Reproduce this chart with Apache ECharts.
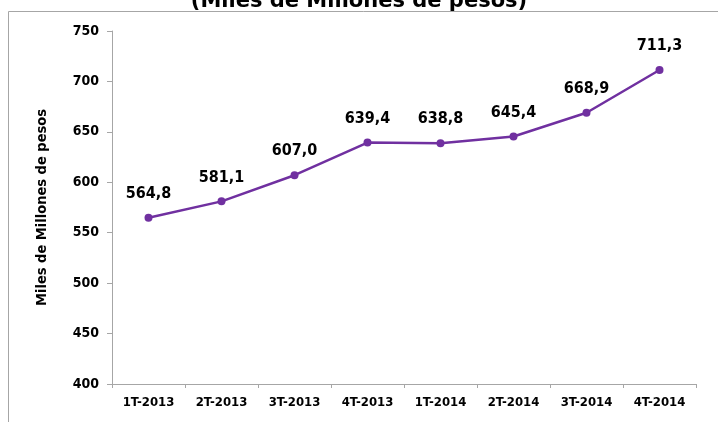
<!DOCTYPE html>
<html>
<head>
<meta charset="utf-8">
<script src="https://cdn.jsdelivr.net/npm/echarts@6/dist/echarts.min.js"></script>
<style>
html, body { margin: 0; padding: 0; background: #fff; }
#chart { width: 718px; height: 422px; }
</style>
</head>
<body>
<div id="chart"></div>
<script>
// trimestres
var categories = ['1T-2013', '2T-2013', '3T-2013', '4T-2013', '1T-2014', '2T-2014', '3T-2014', '4T-2014'];
// miles de millones de pesos
var values = [564.8, 581.1, 607.0, 639.4, 638.8, 645.4, 668.9, 711.3];
var yTicks = [400, 450, 500, 550, 600, 650, 700, 750];

var font = '"DejaVu Sans Condensed", "DejaVu Sans", sans-serif';

var myChart = echarts.init(document.getElementById('chart'));
var option = {
    animation: false,
    title: {
        text: '(Miles de Millones de pesos)',
        left: 'center',
        top: -14,
        textStyle: { fontFamily: '"DejaVu Sans", sans-serif', fontSize: 21, fontWeight: 'bold', color: '#000' }
    },
    graphic: [{
        type: 'rect',
        shape: { x: 8.5, y: 11.5, width: 730, height: 440 },
        style: { fill: 'none', stroke: '#a6a6a6', lineWidth: 1 },
        silent: true
    }],
    grid: { left: 112, right: 22, top: 31, bottom: 38 },
    xAxis: {
        type: 'category',
        data: categories,
        boundaryGap: true,
        axisLine: { lineStyle: { color: '#a6a6a6' } },
        axisTick: { show: true, length: 4, lineStyle: { color: '#a6a6a6' } },
        axisLabel: { interval: 0, margin: 12, fontFamily: font, fontSize: 13, fontWeight: 'bold', color: '#000' }
    },
    yAxis: {
        type: 'value',
        min: yTicks[0],
        max: yTicks[yTicks.length - 1],
        interval: 50,
        name: 'Miles de Millones de pesos',
        nameLocation: 'middle',
        nameGap: 62,
        nameTextStyle: { fontFamily: font, fontSize: 14.5, fontWeight: 'bold', color: '#000' },
        axisLine: { show: true, lineStyle: { color: '#a6a6a6' } },
        axisTick: { show: true, length: 5, lineStyle: { color: '#a6a6a6' } },
        splitLine: { show: false },
        axisLabel: { margin: 13, fontFamily: font, fontSize: 14, fontWeight: 'bold', color: '#000' }
    },
    series: [{
        type: 'line',
        data: values,
        symbol: 'circle',
        symbolSize: 8,
        lineStyle: { color: '#7030a0', width: 2.5 },
        itemStyle: { color: '#7030a0' },
        label: {
            show: true,
            position: 'top',
            distance: 12,
            fontFamily: font,
            fontSize: 16,
            fontWeight: 'bold',
            color: '#000',
            formatter: function (p) { return p.value.toFixed(1).replace('.', ','); }
        }
    }]
};
myChart.setOption(option);
</script>
</body>
</html>
